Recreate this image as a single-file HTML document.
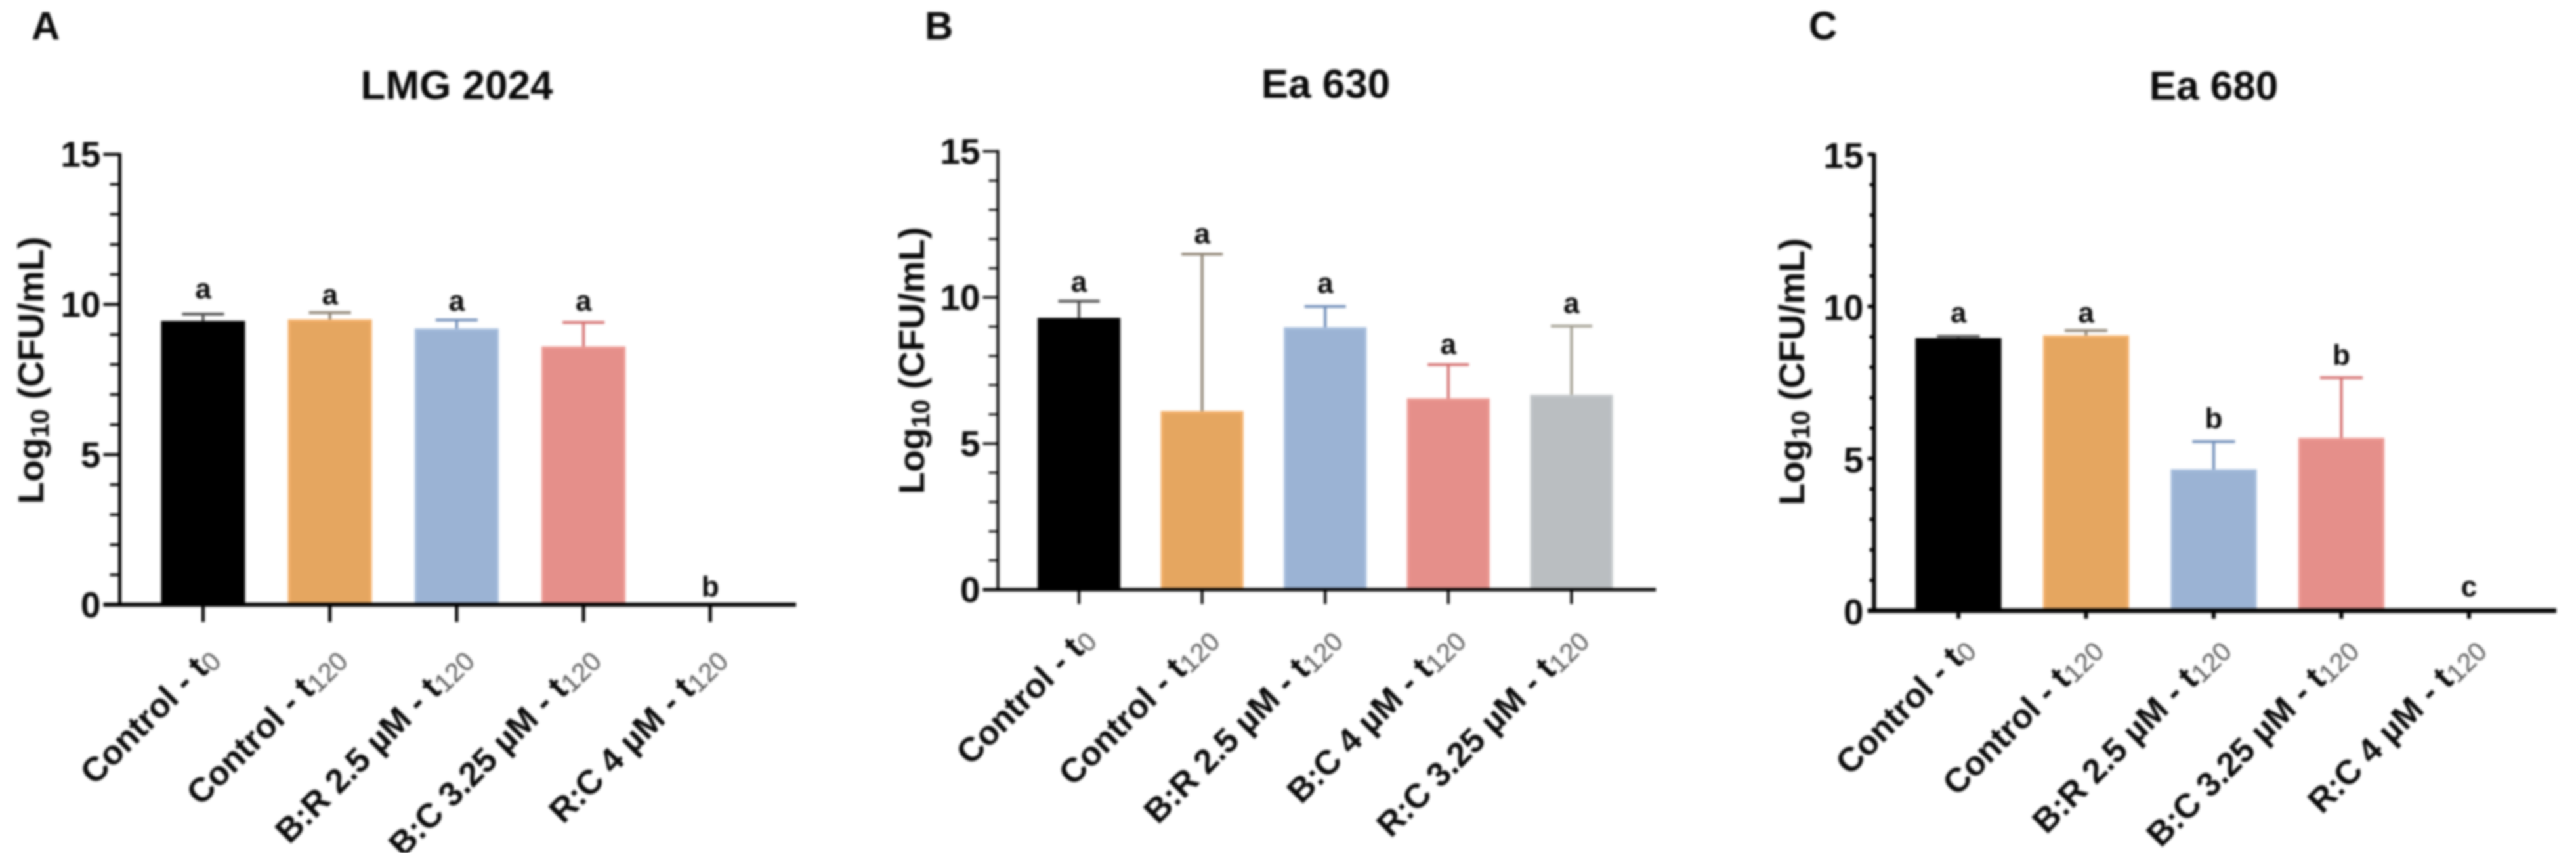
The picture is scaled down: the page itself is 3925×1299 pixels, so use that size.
<!DOCTYPE html>
<html lang="en">
<head>
<meta charset="utf-8">
<title>Log10 CFU/mL bar charts</title>
<style>
html,body{margin:0;padding:0;background:#fff;width:3925px;height:1299px;overflow:hidden}
svg{display:block;filter:blur(1.8px)}
text{font-family:"Liberation Sans",sans-serif;font-weight:700;fill:#0a0a0a}
</style>
</head>
<body>
<svg id="figure" xmlns="http://www.w3.org/2000/svg" width="3925" height="1299" viewBox="0 0 3925 1299"></svg>
<script>
const yTickLabels = [0, 5, 10, 15];
const yMax = 15;

const panelACategories = ["Control - t|0", "Control - t|120", "B:R 2.5 µM - t|120", "B:C 3.25 µM - t|120", "R:C 4 µM - t|120"];
const panelAValues = [9.45, 9.5, 9.2, 8.6, 0];
const panelAErrorTops = [9.68, 9.73, 9.48, 9.4, 0];
const panelALetters = ["a", "a", "a", "a", "b"];
const panelALetterLevels = [10.2, 10.0, 9.8, 9.8, 0.28];

const panelBCategories = ["Control - t|0", "Control - t|120", "B:R 2.5 µM - t|120", "B:C 4 µM - t|120", "R:C 3.25 µM - t|120"];
const panelBValues = [9.3, 6.11, 8.98, 6.55, 6.67];
const panelBErrorTops = [9.87, 11.48, 9.69, 7.7, 9.02];
const panelBLetters = ["a", "a", "a", "a", "a"];
const panelBLetterLevels = [10.2, 11.85, 10.16, 8.07, 9.47];

const panelCCategories = ["Control - t|0", "Control - t|120", "B:R 2.5 µM - t|120", "B:C 3.25 µM - t|120", "R:C 4 µM - t|120"];
const panelCValues = [8.96, 9.05, 4.65, 5.68, 0];
const panelCErrorTops = [9.02, 9.21, 5.56, 7.66, 0];
const panelCLetters = ["a", "a", "b", "b", "c"];
const panelCLetterLevels = [9.48, 9.48, 6.0, 8.08, 0.47];

const SVGNS = "http://www.w3.org/2000/svg";
const figure = document.getElementById("figure");

function make(tag, attrs, parent) {
  const el = document.createElementNS(SVGNS, tag);
  for (const k in attrs) el.setAttribute(k, attrs[k]);
  parent.appendChild(el);
  return el;
}

function drawPanel(p) {
  const g = make("g", {}, figure);
  
  

  const yScale = v => p.y0 + (p.y15 - p.y0) * v / yMax;
  const xScale = i => p.xFirst + p.xStep * i;

  const label = make("text", {x: p.labelX, y: p.labelY, "font-size": 60}, g);
  label.textContent = p.id.toUpperCase();
  
  

  const title = make("text", {x: p.titleX, y: p.titleY, "font-size": 62, "text-anchor": "middle"}, g);
  title.textContent = p.title;
  
  

  const yTitle = make("text", {transform: "translate(" + p.yTitleX + "," + p.yTitleY + ") rotate(-90)", "font-size": 55, "text-anchor": "middle"}, g);
  
  
  make("tspan", {}, yTitle).textContent = "Log";
  make("tspan", {dy: 8, "font-size": 39}, yTitle).textContent = "10";
  make("tspan", {dy: -8}, yTitle).textContent = " (CFU/mL)";

  /* bars */
  p.values.forEach((v, i) => {
    const cx = xScale(i);
    const top = yScale(v);
    const st = p.styles[i];
    if (v > 0) {
      const bar = make("rect", {x: cx - p.barW / 2 + 2, y: top + 2, width: p.barW - 4, height: p.y0 - top - 2, fill: st.fill, stroke: st.edge, "stroke-width": 4}, g);
      
      

      const errTop = yScale(p.errors[i]);
      const stem = make("line", {x1: cx, x2: cx, y1: top, y2: errTop, stroke: st.err, "stroke-width": 4}, g);
      
      
      const cap = make("line", {x1: cx - p.capW / 2, x2: cx + p.capW / 2, y1: errTop, y2: errTop, stroke: st.err, "stroke-width": 4}, g);
      
      
    }

    const letter = make("text", {x: cx, y: yScale(p.letterLevels[i]), "font-size": 44, "text-anchor": "middle"}, g);
    letter.textContent = p.letters[i];
    
    
  });

  /* y axis */
  const yAxis = make("line", {x1: p.axisX, x2: p.axisX, y1: p.y15 - 2, y2: p.y0, stroke: "#000", "stroke-width": p.axisW}, g);
  
  

  for (let t = 0; t <= yMax; t++) {
    const major = yTickLabels.includes(t);
    const tick = make("line", {x1: p.axisX - (major ? p.majorLen : p.minorLen), x2: p.axisX, y1: yScale(t), y2: yScale(t), stroke: "#000", "stroke-width": major ? p.axisW - 0.5 : p.axisW - 1}, g);
    
    
    if (major) {
      const tl = make("text", {x: p.axisX - p.tickLabelGap, y: yScale(t) + p.tickLabelDrop, "font-size": 55, "text-anchor": "end"}, g);
      tl.textContent = t;
      
      
    }
  }

  /* x axis */
  const xAxis = make("line", {x1: p.axisX - p.majorLen, x2: p.axisEnd, y1: p.y0, y2: p.y0, stroke: "#000", "stroke-width": p.axisW + 1}, g);
  
  

  p.categories.forEach((c, i) => {
    const cx = xScale(i);
    const tick = make("line", {x1: cx, x2: cx, y1: p.y0, y2: p.y0 + p.tickLen, stroke: "#000", "stroke-width": p.axisW}, g);
    
    

    const parts = c.split("|");
    const t = make("text", {transform: "translate(" + (cx + 26) + "," + (p.y0 + p.labelDrop) + ") rotate(-45)", "font-size": 52, "text-anchor": "end"}, g);
    
    
    make("tspan", {}, t).textContent = parts[0];
    make("tspan", {dy: 5, "font-size": 40, "font-weight": 400, style: "fill:#555"}, t).textContent = parts[1];
  });
}

const black = {fill: "#000", edge: "#000", err: "#4a4a4a"};
const orange = {fill: "#e5a660", edge: "#f3b06a", err: "#8d8272"};
const blue = {fill: "#9bb3d4", edge: "#a4bcdc", err: "#6f8db8"};
const red = {fill: "#e58f8a", edge: "#ec9892", err: "#d46f6f"};
const grey = {fill: "#babec1", edge: "#c2c6c9", err: "#a39f92"};

drawPanel({
  id: "a", title: "LMG 2024", categories: panelACategories, values: panelAValues, errors: panelAErrorTops,
  letters: panelALetters, letterLevels: panelALetterLevels, styles: [black, orange, blue, red, grey],
  labelX: 48, labelY: 60, titleX: 696, titleY: 151, yTitleX: 66, yTitleY: 564,
  axisX: 182.5, axisEnd: 1213, axisW: 5, y0: 921, y15: 235, xFirst: 309.5, xStep: 193.2, barW: 128, capW: 64,
  tickLen: 26, labelDrop: 85, majorLen: 25, minorLen: 15, tickLabelGap: 29, tickLabelDrop: 19
});
drawPanel({
  id: "b", title: "Ea 630", categories: panelBCategories, values: panelBValues, errors: panelBErrorTops,
  letters: panelBLetters, letterLevels: panelBLetterLevels, styles: [black, orange, blue, red, grey],
  labelX: 1409, labelY: 60, titleX: 2020, titleY: 149, yTitleX: 1408, yTitleY: 549,
  axisX: 1520.5, axisEnd: 2523, axisW: 4, y0: 898, y15: 230.5, xFirst: 1644, xStep: 187.6, barW: 126, capW: 63,
  tickLen: 22, labelDrop: 78, majorLen: 23, minorLen: 14, tickLabelGap: 27, tickLabelDrop: 19
});
drawPanel({
  id: "c", title: "Ea 680", categories: panelCCategories, values: panelCValues, errors: panelCErrorTops,
  letters: panelCLetters, letterLevels: panelCLetterLevels, styles: [black, orange, blue, red, grey],
  labelX: 2756, labelY: 60, titleX: 3373, titleY: 152, yTitleX: 2749, yTitleY: 566,
  axisX: 2855.5, axisEnd: 3895, axisW: 6, y0: 930, y15: 235, xFirst: 2984, xStep: 194.5, barW: 131, capW: 65,
  tickLen: 12, labelDrop: 61, majorLen: 10, minorLen: 7, tickLabelGap: 16, tickLabelDrop: 21
});
</script>
</body>
</html>
